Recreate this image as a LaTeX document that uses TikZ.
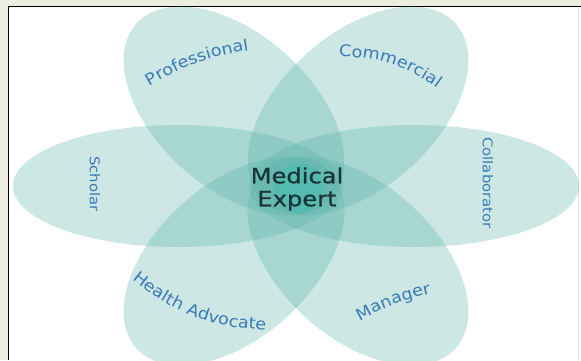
\documentclass[tikz,border=0pt]{standalone}
\usepackage{fontspec}
\newfontfamily\labfont[FakeStretch=1.1]{DejaVu Sans}
\newfontfamily\midfont[FakeStretch=1.15,FakeBold=0.6]{DejaVu Sans}
\usetikzlibrary{decorations.text}

\definecolor{petalfill}{RGB}{88,178,168}
\definecolor{coreteal}{RGB}{60,190,178}
\definecolor{labelblue}{RGB}{58,122,182}
\definecolor{midtext}{RGB}{25,52,52}
\definecolor{framebg}{RGB}{236,236,224}

\newcommand\petalfont{\fontsize{16}{19}\selectfont\labfont\color{labelblue}}

\tikzset{
  petal/.style={fill=petalfill, fill opacity=0.3},
  sidelabel/.style={rotate=-90, text=labelblue, font=\fontsize{13.5}{16}\selectfont\labfont},
  curvedlabel/.style={decorate, decoration={text along path, text align=center, text={#1}}}
}

\begin{document}
\begin{tikzpicture}[x=1pt,y=1pt]

\useasboundingbox (0,0) rectangle (581,360);
\fill[framebg] (0,0) rectangle (581,360);
\fill[white] (9,0) rectangle (581,353);
\draw[line width=1.5pt] (8.5,0) -- (8.5,353.5) -- (581,353.5);
\draw[black!12] (578,0) -- (578,353);

\begin{scope}[shift={(296,174)}]
\foreach \cx/\cy/\ang/\ra/\rb in {-118/0/0/165/61, 118/0/0/165/61,
    -62/75/138.3/131/77, 62/75/41.7/131/77, -62/-75/41.7/131/77, 62/-75/138.3/131/77}
  \fill[petal, shift={(\cx,\cy)}, rotate=\ang] (0,0) ellipse [x radius=\ra, y radius=\rb];
\end{scope}

\fill[coreteal, fill opacity=0.45] (299,172) circle (25);

\node[align=center, text=midtext, font=\fontsize{21}{23}\selectfont\midfont] (expert) at (297,171) {Medical\\Expert};

\node[sidelabel] (scholar) at (95,176) {Scholar};
\node[sidelabel] (collab) at (488,177) {Collaborator};

\path[curvedlabel={|\petalfont|Professional}] (147,272) to[bend left=12] (252,310);
\path[curvedlabel={|\petalfont|Commercial}] (340,303) to[bend left=18] (437,272);
\path[curvedlabel={|\petalfont|Health Advocate}] (133,80) to[bend right=18] (265,30);
\path[curvedlabel={|\petalfont|Manager}] (358,38) to[bend left=8] (433,67);

\end{tikzpicture}
\end{document}
